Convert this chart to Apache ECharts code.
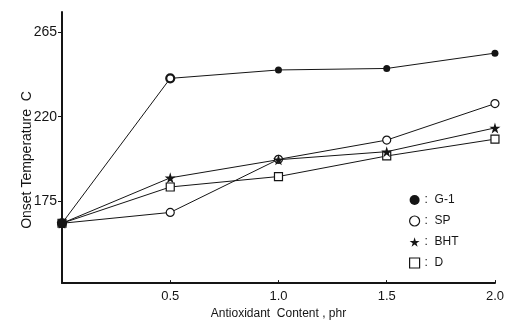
<!DOCTYPE html>
<html>
<head>
<meta charset="utf-8">
<script src="https://cdn.jsdelivr.net/npm/echarts@6/dist/echarts.min.js"></script>
<style>
  html, body { margin: 0; padding: 0; background: #fff; }
  #chart { width: 507px; height: 325px; }
</style>
</head>
<body>
<div id="chart"></div>
<script>
// Antioxidant content (phr) on the x axis
const content = [0, 0.5, 1.0, 1.5, 2.0];

// Onset temperature (°C) for each antioxidant
const g1  = [163, 240.5, 245, 245.8, 254];
const sp  = [163, 168.8, 197.2, 207.5, 227];
const bht = [163, 187.3, 197, 201.3, 214];
const d   = [163, 182.4, 188, 199, 208];

const yTicks = [175, 220, 265];
const xTicks = [0.5, 1.0, 1.5, 2.0];

const INK = '#151515';
const FONT = 'Liberation Sans';
const STAR = 'path://M50,0 L61,35 L98,35 L68,57 L79,91 L50,70 L21,91 L32,57 L2,35 L39,35 Z';

function pairs(vals) {
  return content.map((x, i) => [x, vals[i]]);
}

function line(name, vals, symbol, size, filled) {
  return {
    name: name,
    type: 'line',
    data: pairs(vals),
    symbol: symbol,
    symbolSize: size,
    showAllSymbol: true,
    lineStyle: { color: INK, width: 1 },
    itemStyle: { color: filled ? INK : '#fff', borderColor: INK, borderWidth: filled ? 0 : 1.2 },
    emphasis: { disabled: true },
    animation: false
  };
}

const g1Series = line('G-1', g1, 'circle', 7, true);
// common starting point drawn as a heavier dot; the 0.5 phr point as a heavy ring
g1Series.data = g1Series.data.map((p, i) => {
  if (i === 0) return { value: p, symbolSize: 10 };
  if (i === 1) return { value: p, symbolSize: 8, itemStyle: { color: '#fff', borderColor: INK, borderWidth: 2.2 } };
  return p;
});
g1Series.z = 5;

const chart = echarts.init(document.getElementById('chart'), null, { renderer: 'canvas' });
chart.setOption({
  backgroundColor: '#fff',
  textStyle: { fontFamily: FONT, color: INK },
  grid: { left: 62, right: 7, top: 12, bottom: 38 },
  xAxis: {
    type: 'value',
    min: 0, max: 2, interval: 0.5,
    name: 'Antioxidant  Content , phr',
    nameLocation: 'middle',
    nameGap: 21,
    nameTextStyle: { fontSize: 12, color: INK, fontFamily: FONT },
    axisLine: { lineStyle: { color: INK, width: 2 } },
    axisTick: { show: true, length: 3, inside: true, lineStyle: { color: INK, width: 1 }, customValues: xTicks },
    axisLabel: { customValues: xTicks, fontSize: 13, color: INK, margin: 7, formatter: v => v.toFixed(1) },
    splitLine: { show: false }
  },
  yAxis: {
    type: 'value',
    min: 131, max: 276,
    axisLine: { show: true, lineStyle: { color: INK, width: 2 } },
    axisTick: { show: true, length: 4, lineStyle: { color: INK, width: 1 }, customValues: yTicks },
    axisLabel: { customValues: yTicks, fontSize: 14, color: INK, margin: 5 },
    splitLine: { show: false }
  },
  graphic: [{
    type: 'text',
    x: 27,
    y: 160,
    rotation: Math.PI / 2,
    style: {
      text: 'Onset Temperature  C',
      font: '14px "Liberation Sans"',
      fill: INK,
      align: 'center',
      verticalAlign: 'middle'
    }
  }],
  legend: {
    orient: 'vertical',
    left: 404,
    top: 189,
    itemGap: 9,
    itemWidth: 10,
    itemHeight: 10,
    textStyle: { fontSize: 12, color: INK, fontFamily: FONT },
    formatter: n => ':  ' + n,
    selectedMode: false,
    data: [
      { name: 'G-1', icon: 'circle', itemStyle: { color: INK, borderWidth: 0 } },
      { name: 'SP', icon: 'circle', itemStyle: { color: '#fff', borderColor: INK, borderWidth: 1.2 } },
      { name: 'BHT', icon: STAR, itemStyle: { color: INK, borderWidth: 0 } },
      { name: 'D', icon: 'rect', itemStyle: { color: '#fff', borderColor: INK, borderWidth: 1.2 } }
    ]
  },
  series: [
    line('D', d, 'rect', 8, false),
    line('SP', sp, 'circle', 8, false),
    line('BHT', bht, STAR, 11, true),
    g1Series
  ]
});
</script>
</body>
</html>
